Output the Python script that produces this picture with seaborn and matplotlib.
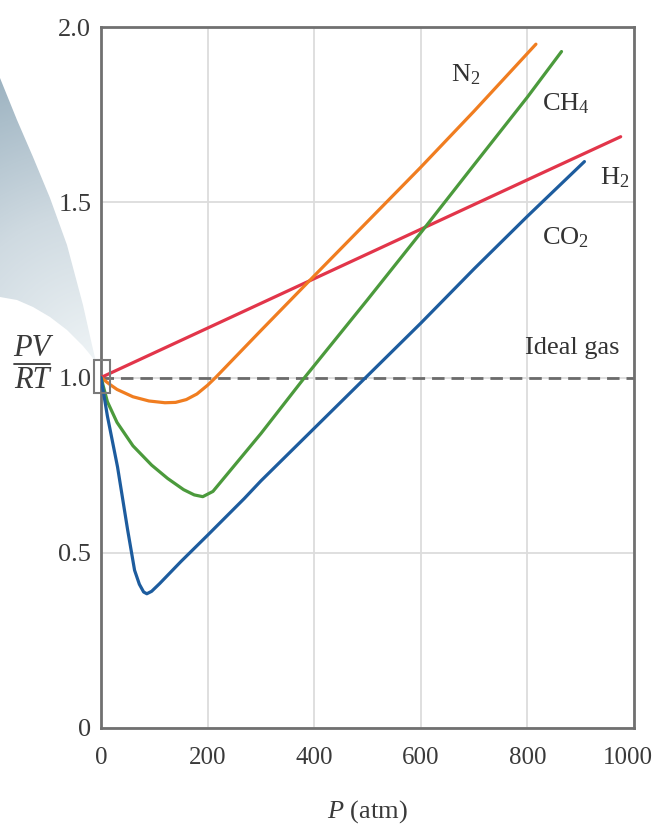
import matplotlib.pyplot as plt
import matplotlib.colors as mcolors
import matplotlib.transforms as mtransforms
import numpy as np
import pandas as pd
import seaborn as sns
from matplotlib.lines import Line2D
from matplotlib.patches import Polygon, Rectangle

# Compressibility factor PV/RT versus pressure (atm)
h2_p = [0, 200, 400, 600, 800, 975]
h2_z = [1.0, 1.141, 1.282, 1.423, 1.564, 1.687]

n2_p = [0, 15, 30, 60, 90, 120, 140, 160, 180, 200, 215, 300, 400, 500, 600, 700, 816]
n2_z = [1.0, 0.982, 0.966, 0.945, 0.933, 0.928, 0.929, 0.937, 0.953, 0.978, 1.0,
        1.134, 1.29, 1.445, 1.60, 1.76, 1.951]

ch4_p = [0, 12, 30, 60, 95, 125, 155, 175, 191, 210, 240, 300, 382, 500, 600, 700, 800, 864]
ch4_z = [1.0, 0.931, 0.872, 0.805, 0.750, 0.712, 0.680, 0.665, 0.660, 0.675, 0.730,
         0.840, 1.0, 1.222, 1.413, 1.607, 1.80, 1.93]

co2_p = [0, 12, 31, 50, 63, 72, 80, 86, 95, 110, 150, 200, 269, 300, 400, 500, 600, 700, 800, 907]
co2_z = [1.0, 0.89, 0.745, 0.565, 0.45, 0.41, 0.388, 0.383, 0.39, 0.412, 0.475, 0.55,
         0.655, 0.705, 0.855, 1.005, 1.155, 1.31, 1.46, 1.616]

gases = ['H2', 'N2', 'CH4', 'CO2']
colors = {'H2': '#e2354a', 'N2': '#f07d20', 'CH4': '#4b9a3c', 'CO2': '#1d5c9e'}
labels = {'H2': 'H$_2$', 'N2': 'N$_2$', 'CH4': 'CH$_4$', 'CO2': 'CO$_2$'}
label_pos = {'N2': (684, 1.863), 'CH4': (872, 1.78), 'H2': (963, 1.57), 'CO2': (872, 1.40)}

x_ticks = [0, 200, 400, 600, 800, 1000]
y_ticks = [0, 0.5, 1.0, 1.5, 2.0]
y_tick_labels = ['0', '0.5', '1.0', '1.5', '2.0']

df = pd.concat([
    pd.DataFrame({'P': h2_p, 'z': h2_z, 'gas': 'H2'}),
    pd.DataFrame({'P': n2_p, 'z': n2_z, 'gas': 'N2'}),
    pd.DataFrame({'P': ch4_p, 'z': ch4_z, 'gas': 'CH4'}),
    pd.DataFrame({'P': co2_p, 'z': co2_z, 'gas': 'CO2'}),
], ignore_index=True)

sns.set_theme(style="whitegrid")
plt.rcParams['font.family'] = ['Liberation Serif', 'DejaVu Serif']
plt.rcParams['mathtext.fontset'] = 'custom'
plt.rcParams['mathtext.rm'] = 'Liberation Serif'
plt.rcParams['mathtext.it'] = 'Liberation Serif:italic'

fig = plt.figure(figsize=(6.57, 8.32), dpi=100)
fig.patch.set_facecolor('white')

# decorative "zoom" cone on the left, drawn in pixel coordinates
bg = fig.add_axes([0, 0, 1, 1], zorder=0)
yy, xx = np.mgrid[0:400, 0:110]
dist = np.clip(np.hypot(xx - 96, yy - 362) / 300.0, 0, 1)
cone_cmap = mcolors.LinearSegmentedColormap.from_list(
    'cone', ['#eff4f6', '#cfdae1', '#9db3c1'])
im = bg.imshow(dist, cmap=cone_cmap, extent=(0, 110, 400, 0), origin='upper',
               vmin=0, vmax=1, aspect='auto', interpolation='bilinear')
cone = Polygon([(0, 78), (17, 120), (33, 157), (50, 198), (67, 245), (83, 305),
                (92, 345), (96, 362), (88, 352), (83, 346), (67, 330), (50, 317),
                (33, 307), (17, 300), (0, 297)], closed=True, transform=bg.transData,
               facecolor='none', edgecolor='none')
bg.add_patch(cone)
im.set_clip_path(cone)

# PV/RT axis title as a stacked fraction
bg.text(32, 349, 'PV', fontsize=22, fontstyle='italic', color='#3a3a3a',
        ha='center', va='center')
bg.text(32, 381, 'RT', fontsize=22, fontstyle='italic', color='#3a3a3a',
        ha='center', va='center')
bg.add_line(Line2D([14, 50], [364, 364], color='#3a3a3a', lw=1.3))

bg.set_xlim(0, 657)
bg.set_ylim(832, 0)
bg.axis('off')

ax = fig.add_axes([101 / 657, 1 - 728 / 832, 533 / 657, 701 / 832], zorder=2)
ax.set_facecolor('white')

ax.axhline(1.0, color='#6b6b6b', lw=2, dashes=(4.5, 2.5), zorder=1.5)

sns.lineplot(data=df, x='P', y='z', hue='gas', hue_order=gases, palette=colors,
             linewidth=2.3, legend=False, sort=False, estimator=None, ax=ax, zorder=3)

for g in gases:
    px, py = label_pos[g]
    ax.text(px, py, labels[g], fontsize=19, color='#333333', ha='center', va='center')
ax.text(884, 1.084, 'Ideal gas', fontsize=19, color='#333333', ha='center', va='center')

ax.add_patch(Rectangle((-14, 0.955), 30, 0.094, fill=False, edgecolor='#7a7a7a',
                       lw=1.5, clip_on=False, zorder=5))

ax.set_xlim(0, 1000)
ax.set_ylim(0, 2.0)
ax.set_xticks(x_ticks)
ax.set_xticklabels([str(t) for t in x_ticks])
ax.set_yticks(y_ticks)
ax.set_yticklabels(y_tick_labels)
ax.tick_params(axis='both', length=0, labelsize=19, labelcolor='#3a3a3a')
ax.tick_params(axis='x', pad=14, labelsize=18)
ax.tick_params(axis='y', pad=7)
last = ax.get_xticklabels()[-1]
last.set_transform(last.get_transform() +
                   mtransforms.ScaledTranslation(-6 / 100, 0, fig.dpi_scale_trans))
ax.grid(True, color='#dcdcdc', lw=1.3)
for s in ax.spines.values():
    s.set_visible(True)
    s.set_color('#707070')
    s.set_linewidth(2)

ax.set_xlabel(r'$P$ (atm)', fontsize=19, color='#3a3a3a', labelpad=21)
ax.set_ylabel('')

fig.savefig('out.png', dpi=100, facecolor='white')
